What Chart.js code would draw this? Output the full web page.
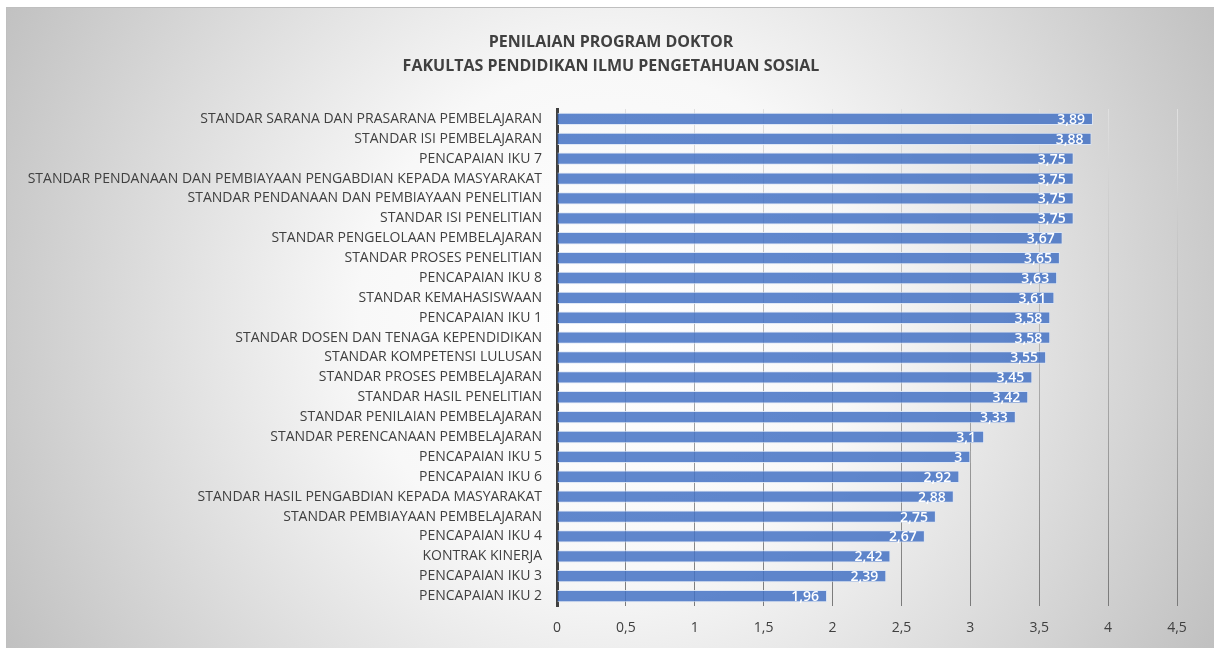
<!DOCTYPE html>
<html>
<head>
<meta charset="utf-8">
<script src="https://cdn.jsdelivr.net/npm/chart.js@4.4.1/dist/chart.umd.min.js"></script>
<style>
html,body{margin:0;padding:0;background:#fff;}
#wrap{position:absolute;left:0;top:0;width:1214px;height:648px;}
</style>
</head>
<body>
<div id="wrap"><canvas id="c" width="1214" height="648"></canvas></div>
<script>
const titleLines = ['PENILAIAN PROGRAM DOKTOR', 'FAKULTAS PENDIDIKAN ILMU PENGETAHUAN SOSIAL'];
const categories = [
  'STANDAR SARANA DAN PRASARANA PEMBELAJARAN',
  'STANDAR ISI PEMBELAJARAN',
  'PENCAPAIAN IKU 7',
  'STANDAR PENDANAAN DAN PEMBIAYAAN PENGABDIAN KEPADA MASYARAKAT',
  'STANDAR PENDANAAN DAN PEMBIAYAAN PENELITIAN',
  'STANDAR ISI PENELITIAN',
  'STANDAR PENGELOLAAN PEMBELAJARAN',
  'STANDAR PROSES PENELITIAN',
  'PENCAPAIAN IKU 8',
  'STANDAR KEMAHASISWAAN',
  'PENCAPAIAN IKU 1',
  'STANDAR DOSEN DAN TENAGA KEPENDIDIKAN',
  'STANDAR KOMPETENSI LULUSAN',
  'STANDAR PROSES PEMBELAJARAN',
  'STANDAR HASIL PENELITIAN',
  'STANDAR PENILAIAN PEMBELAJARAN',
  'STANDAR PERENCANAAN PEMBELAJARAN',
  'PENCAPAIAN IKU 5',
  'PENCAPAIAN IKU 6',
  'STANDAR HASIL PENGABDIAN KEPADA MASYARAKAT',
  'STANDAR PEMBIAYAAN PEMBELAJARAN',
  'PENCAPAIAN IKU 4',
  'KONTRAK KINERJA',
  'PENCAPAIAN IKU 3',
  'PENCAPAIAN IKU 2'
];
const scores = [3.89, 3.88, 3.75, 3.75, 3.75, 3.75, 3.67, 3.65, 3.63, 3.61, 3.58, 3.58, 3.55, 3.45, 3.42, 3.33, 3.1, 3, 2.92, 2.88, 2.75, 2.67, 2.42, 2.39, 1.96];
const xTicks = [0, 0.5, 1, 1.5, 2, 2.5, 3, 3.5, 4, 4.5];

const fmt = v => String(v).replace('.', ',');
const FONT = "'Open Sans', 'Liberation Sans', sans-serif";

const bgPlugin = {
  id: 'bg',
  beforeDraw(chart) {
    const ctx = chart.ctx;
    const x0 = 6, y0 = 7, x1 = 1214, y1 = 648;
    ctx.save();
    const g = ctx.createRadialGradient(610, 320, 0, 610, 320, 720);
    g.addColorStop(0, '#ffffff');
    g.addColorStop(0.35, '#f8f8f8');
    g.addColorStop(1, '#bcbcbc');
    ctx.fillStyle = g;
    ctx.fillRect(x0, y0, x1 - x0, y1 - y0);
    ctx.strokeStyle = '#bfbfbf';
    ctx.lineWidth = 1;
    ctx.strokeRect(x0 + 0.5, y0 + 0.5, x1 - x0, y1 - y0);
    ctx.restore();
  }
};

const labelPlugin = {
  id: 'vals',
  afterDatasetsDraw(chart) {
    const ctx = chart.ctx;
    const meta = chart.getDatasetMeta(0);
    ctx.save();
    ctx.font = "600 14px " + FONT;
    ctx.fillStyle = '#ffffff';
    ctx.textAlign = 'right';
    ctx.textBaseline = 'middle';
    meta.data.forEach((bar, i) => {
      ctx.fillText(fmt(chart.data.datasets[0].data[i]), bar.x - 8, bar.y + 1);
    });
    ctx.restore();
  }
};

new Chart(document.getElementById('c'), {
  type: 'bar',
  data: {
    labels: categories,
    datasets: [{
      data: scores,
      backgroundColor: 'rgba(68,114,196,0.85)',
      borderColor: 'rgba(220,230,245,0.9)',
      borderWidth: 1,
      categoryPercentage: 0.62,
      barPercentage: 1
    }]
  },
  options: {
    indexAxis: 'y',
    responsive: false,
    animation: false,
    devicePixelRatio: 1,
    layout: { padding: { left: 8, right: 0, top: 7, bottom: 0 } },
    plugins: {
      legend: { display: false },
      tooltip: { enabled: false },
      title: {
        display: true,
        text: titleLines,
        color: '#404040',
        font: { family: FONT, size: 16, weight: 'bold', lineHeight: 1.5 },
        padding: { top: 23, bottom: 31 }
      }
    },
    scales: {
      x: {
        min: 0, max: 4.5,
        afterBuildTicks(scale) { scale.ticks = xTicks.map(v => ({ value: v })); },
        afterFit(scale) { scale.height = 42; },
        ticks: {
          color: '#404040',
          font: { family: FONT, size: 14 },
          padding: 14,
          callback: v => fmt(v)
        },
        grid: {
          drawTicks: false,
          lineWidth: 1,
          color(ctx) {
            const ch = ctx.chart;
            const a = ch.chartArea;
            if (!a) return '#a0a0a0';
            const g = ch.ctx.createLinearGradient(0, a.top, 0, a.bottom);
            g.addColorStop(0, '#e0e0e0');
            g.addColorStop(0.5, '#b0b0b0');
            g.addColorStop(1, '#7a7a7a');
            return g;
          }
        },
        border: { display: false }
      },
      y: {
        afterFit(scale) { scale.width = 549; },
        ticks: {
          color: '#404040',
          font: { family: FONT, size: 14 },
          padding: 15,
          autoSkip: false
        },
        grid: { display: false, drawTicks: false },
        border: { display: true, color: '#404040', width: 3 }
      },
      yRightSpace: {
        position: 'right',
        afterFit(scale) { scale.width = 37; },
        ticks: { display: false },
        grid: { display: false, drawTicks: false },
        border: { display: false }
      }
    }
  },
  plugins: [bgPlugin, labelPlugin]
});
</script>
</body>
</html>
